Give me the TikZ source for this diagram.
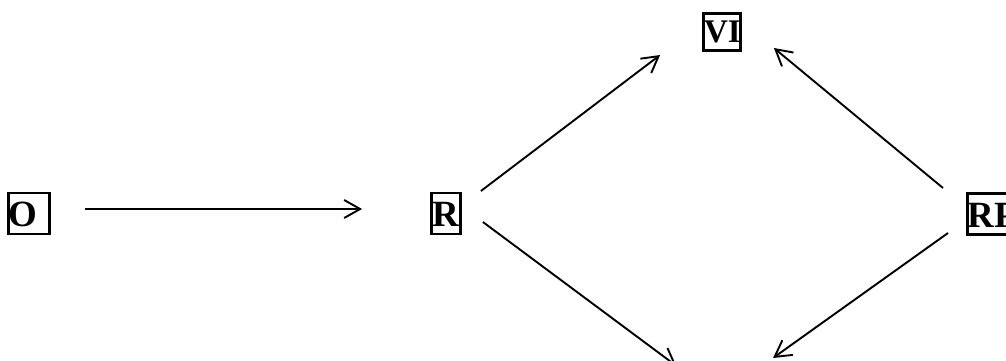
\documentclass[tikz,border=0pt]{standalone}
\usepackage{fontspec}
\setmainfont{Liberation Serif}
\usetikzlibrary{arrows.meta}
\begin{document}
\begin{tikzpicture}[x=1pt,y=-1pt,
  lbl/.style={draw,line width=2.8pt,inner sep=0.5pt,
    font=\fontsize{37}{42}\selectfont\bfseries,
    text height=33pt,text depth=7pt},
  arr/.style={line width=1.9pt,-{Straight Barb[length=16pt,width=18pt,line width=1.9pt]}}]
\useasboundingbox (0,0) rectangle (1006,360);
\node[lbl,text width=40pt,align=left] (O) at (29,213.5) {O};
\node[lbl,text width=28pt,align=center] (R) at (446,213.5) {R};
\node[lbl,text width=36pt,align=center,text height=29pt,text depth=7pt,
  font=\fontsize{33}{38}\selectfont\bfseries] (VI) at (722,31.8) {VI};
\node[lbl,anchor=west] (RP) at (966,214) {RP};
\coordinate (BL) at (676.5,366);
\coordinate (BR) at (773,358);
\draw[arr] ([shift={(34,-4.5)}]O.east) -- ([shift={(-68,-4.5)}]R.west);
\draw[arr] ([shift={(19,-22.5)}]R.east) -- ([shift={(-42,23.2)}]VI.west);
\draw[arr] ([shift={(21,8.5)}]R.east) -- (BL);
\draw[arr] ([shift={(-23,-26)}]RP.west) -- ([shift={(32,16.2)}]VI.east);
\draw[arr] ([shift={(-18,19)}]RP.west) -- (BR);
\end{tikzpicture}
\end{document}
